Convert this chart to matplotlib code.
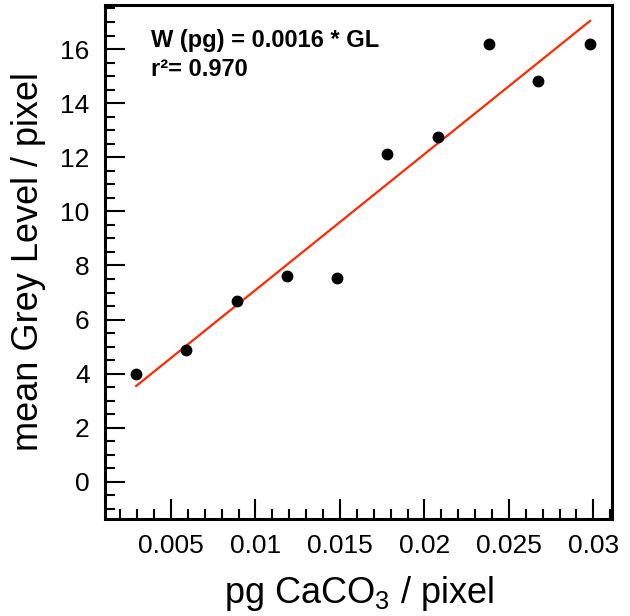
import numpy as np
import matplotlib
matplotlib.use("Agg")
import matplotlib.pyplot as plt
from matplotlib.ticker import MultipleLocator, FuncFormatter


# ----------------------------
# Data
# ----------------------------

pg_per_pixel = [0.00294, 0.0059, 0.00893, 0.01189, 0.01485,
                0.0178, 0.0208, 0.0238, 0.0267, 0.0298]
grey_level   = [3.99, 4.88, 6.69, 7.61, 7.54,
                12.12, 12.75, 16.19, 14.82, 16.19]

eq_text = "W (pg) = 0.0016 * GL"
r2_text = "r²= 0.970"


# ----------------------------
# Style
# ----------------------------

plt.rcParams["font.family"] = ["Liberation Sans", "DejaVu Sans"]
plt.rcParams["mathtext.fontset"] = "custom"
plt.rcParams["mathtext.rm"] = "Liberation Sans"
plt.rcParams["mathtext.it"] = "Liberation Sans"


# ----------------------------
# Linear fit
# ----------------------------

x = np.array(pg_per_pixel)
y = np.array(grey_level)
slope, intercept = np.polyfit(x, y, 1)
x_fit = np.array([x.min(), x.max()])
y_fit = slope * x_fit + intercept


# ----------------------------
# Plot
# ----------------------------

fig = plt.figure(figsize=(6.3, 6.16), dpi=100)
ax = fig.add_axes([0.1667, 0.1575, 0.8047, 0.8345])

ax.plot(x_fit, y_fit, color="#ff2a00", lw=1.6, zorder=2)
ax.plot(x, y, "o", color="black", ms=7.5, zorder=3)

ax.set_xlim(0.0011, 0.0311)
ax.set_ylim(-1.37, 17.63)

ax.xaxis.set_major_locator(MultipleLocator(0.005))
ax.xaxis.set_minor_locator(MultipleLocator(0.001))
ax.yaxis.set_major_locator(MultipleLocator(2))
ax.yaxis.set_minor_locator(MultipleLocator(0.5))
ax.xaxis.set_major_formatter(FuncFormatter(lambda v, p: "%g" % round(v, 4)))
ax.yaxis.set_major_formatter(FuncFormatter(lambda v, p: "%d" % round(v)))

ax.tick_params(which="both", direction="in", top=False, right=False,
               width=1.5, labelsize=19)
ax.tick_params(which="major", length=14.4)
ax.tick_params(which="minor", length=7.2)
ax.tick_params(axis="x", which="major", pad=11)
ax.tick_params(axis="y", which="major", pad=11)

for s in ax.spines.values():
    s.set_linewidth(2.2)

ax.set_xlabel("pg CaCO$_3$ / pixel", fontsize=26, labelpad=11)
ax.set_ylabel("mean Grey Level / pixel", fontsize=26, labelpad=10)

ax.text(0.0907, 0.918, eq_text, transform=ax.transAxes,
        fontsize=17, fontweight="bold", va="baseline", ha="left")
ax.text(0.0907, 0.862, r2_text, transform=ax.transAxes,
        fontsize=17, fontweight="bold", va="baseline", ha="left")

fig.savefig("out.png", dpi=100)
